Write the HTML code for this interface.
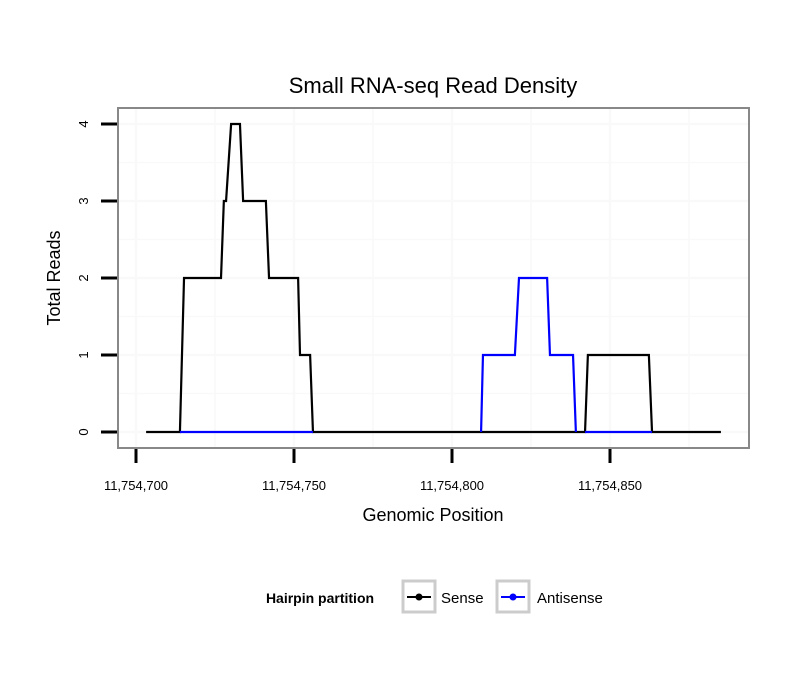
<!DOCTYPE html>
<html><head><meta charset="utf-8"><style>
body{margin:0;background:#fff;font-family:"Liberation Sans",sans-serif}
</style></head><body>
<svg width="810" height="690" xmlns="http://www.w3.org/2000/svg" font-family="Liberation Sans, sans-serif">
<rect width="810" height="690" fill="#fff"/>
<text x="433" y="93" font-size="22" text-anchor="middle">Small RNA-seq Read Density</text>
<g id="grid"></g>
<g id="series"></g>
<rect x="118" y="108" width="631" height="340" fill="none" stroke="#888" stroke-width="2"/>
<g id="axes"></g>
<text x="433" y="521" font-size="18" text-anchor="middle">Genomic Position</text>
<text transform="translate(60,278) rotate(-90)" font-size="18" text-anchor="middle">Total Reads</text>
<g>
<text x="320" y="603" font-size="14" font-weight="bold" text-anchor="middle">Hairpin partition</text>
<g>
<rect x="403" y="581" width="32" height="31" fill="#fff" stroke="#ccc" stroke-width="3"/>
<line x1="407" y1="597" x2="431" y2="597" stroke="#000" stroke-width="2"/>
<circle cx="419" cy="597" r="3.5" fill="#000"/>
<text x="441" y="603" font-size="15">Sense</text></g>
<g>
<rect x="497" y="581" width="32" height="31" fill="#fff" stroke="#ccc" stroke-width="3"/>
<line x1="501" y1="597" x2="525" y2="597" stroke="#00f" stroke-width="2"/>
<circle cx="513" cy="597" r="3.5" fill="#00f"/>
<text x="537" y="603" font-size="15">Antisense</text></g>
</g>
</svg>
<script>
const base = 11754700;
const senseX = [3.2,13.9,15.2,26.9,27.8,28.5,30.1,32.9,33.9,41.1,42.1,51.3,51.9,55.1,56.0,142.1,143.0,162.3,163.3,185.1];
const senseY = [0,0,2,2,3,3,4,4,3,3,2,2,1,1,0,0,1,1,0,0];
const antiX = [13.9,56.0,null,109.2,109.8,119.9,121.2,130.1,131.0,138.3,139.2,null,142.1,163.3];
const antiY = [0,0,null,0,1,1,2,2,1,1,0,null,0,0];
const xTicks = [11754700,11754750,11754800,11754850];
const xTickLabels = ["11,754,700","11,754,750","11,754,800","11,754,850"];
const yTicks = [0,1,2,3,4];
const sx = v => 136 + (v - base) * 3.16;
const sy = v => 432 - v * 77;
const NS = "http://www.w3.org/2000/svg";
function mk(t, a, p){const e=document.createElementNS(NS,t);for(const k in a)e.setAttribute(k,a[k]);p.appendChild(e);return e;}
const grid=document.getElementById('grid'), axes=document.getElementById('axes'), ser=document.getElementById('series');
for(let v=-0.5; v<=4.6; v+=0.5){const y=sy(v); if(y<109||y>447)continue;
 const g=mk('line',{x1:119,x2:748,y1:y,y2:y,stroke:'#f9f9f9','stroke-width':v%1===0?2.5:1.5},grid);
 
 }
for(let v=base-25; v<=base+200; v+=25){const x=sx(v); if(x<119||x>748)continue;
 const g=mk('line',{x1:x,x2:x,y1:109,y2:447,stroke:'#f9f9f9','stroke-width':(v-base)%50===0?2.5:1.5},grid);
 
 }
function series(xs, ys, col, name){
 let d='', pen=false;
 xs.forEach((x,i)=>{ if(x===null){pen=false;return;}
   d+=(pen?'L':'M')+sx(base+x)+' '+sy(ys[i])+' '; pen=true; });
 const p=mk('path',{d:d,fill:'none',stroke:col,'stroke-width':2.2,'stroke-linejoin':'miter'},ser);
 
 }
series(senseX, senseY, '#000', 'sense-line');
series(antiX, antiY, '#00f', 'antisense-line');
xTicks.forEach((v,i)=>{const x=sx(v);
 const t=mk('line',{x1:x,x2:x,y1:449,y2:463,stroke:'#000','stroke-width':3},axes);
 
 
 const l=mk('text',{x:x,y:490,'font-size':13,'text-anchor':'middle'},axes);
 l.textContent=xTickLabels[i];
 
 });
yTicks.forEach(v=>{const y=sy(v);
 const t=mk('line',{x1:101,x2:117,y1:y,y2:y,stroke:'#000','stroke-width':3},axes);
 
 
 const l=mk('text',{transform:`translate(88,${y}) rotate(-90)`,'font-size':13,'text-anchor':'middle'},axes);
 l.textContent=v;
 
 });
</script>
</body></html>
